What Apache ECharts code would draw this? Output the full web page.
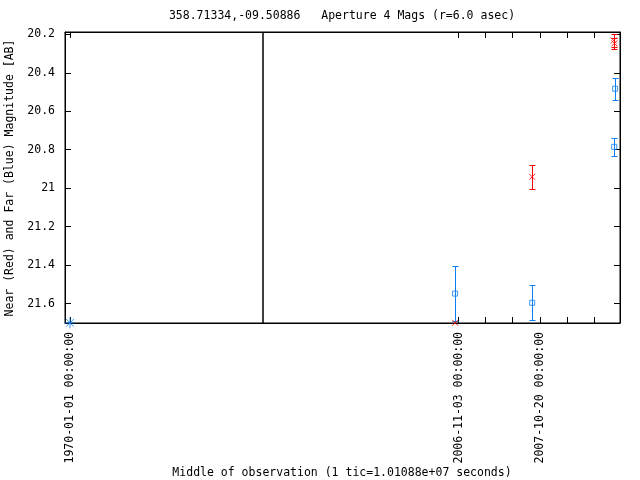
<!DOCTYPE html>
<html><head><meta charset="utf-8">
<script src="https://cdn.jsdelivr.net/npm/echarts@6/dist/echarts.min.js"></script>
<style>html,body{margin:0;padding:0;background:#fff}#c{width:640px;height:480px}</style>
</head><body><div id="c"></div>
<script>
// ---- text ----
const TITLE = '358.71334,-09.50886   Aperture 4 Mags (r=6.0 asec)';
const X_NAME = 'Middle of observation (1 tic=1.01088e+07 seconds)';
const Y_NAME = 'Near (Red) and Far (Blue) Magnitude [AB]';

// ---- ticks ----
const TIC_SECONDS = 10108800;                 // 1 tic = 117 days
const Y_TICKS = [20.2, 20.4, 20.6, 20.8, 21.0, 21.2, 21.4, 21.6];
const X_TICKS_LEFT = [0];                     // tic index
const X_TICKS_RIGHT = [115, 116, 117, 118, 119, 120];
const X_LABELS_LEFT = ['1970-01-01'];
const X_LABELS_RIGHT = ['2006-11-03', '2007-10-20'];

// ---- axis ranges (seconds since 1970 / magnitudes) ----
const X_RANGE_LEFT = [-1864000, 71760000];
const X_RANGE_RIGHT = [1089560000, 1222740000];
const Y_RANGE = [20.188, 21.701];

// ---- data: Near (red) ----
const nearDates = ['2006-10-19', '2007-09-17', '2008-09-03', '2008-09-06'];
const nearMag   = [21.700, 20.941, 20.232, 20.247];
const nearErr   = [0, 0.062, 0.034, 0.030];
// ---- data: Far (blue) ----
const farDates = ['2006-10-19', '2007-09-17', '2008-09-09', '2008-09-05'];
const farMag   = [21.548, 21.596, 20.483, 20.785];
const farErr   = [0.141, 0.090, 0.056, 0.046];
// ---- data: flagged point (blue star) ----
const flagDates = ['1970-01-01'];
const flagMag   = [21.700];

const RED = '#ff0000', BLUE = '#0a7ff5', BLACK = '#000000';
const FONT = 'DejaVu Sans Mono';
const FS = 11.5;

function toSec(d) { const p = d.split('-').map(Number); return Date.UTC(p[0], p[1]-1, p[2]) / 1000; }
function fmtDate(v) { return new Date(v * 1000).toISOString().slice(0, 19).replace('T', ' '); }
function fmtMag(v) { return String(parseFloat(Number(v).toFixed(1))); }

function errSeries(xi, yi, dates, mags, errs, color) {
  const data = [];
  dates.forEach((d, i) => { if (errs[i] > 0) data.push([toSec(d), mags[i] - errs[i], mags[i] + errs[i]]); });
  return {
    type: 'custom', xAxisIndex: xi, yAxisIndex: yi, clip: false, z: 3, silent: true,
    data: data,
    renderItem: function (params, api) {
      const x = api.value(0);
      const a = api.coord([x, api.value(1)]);
      const b = api.coord([x, api.value(2)]);
      const cx = Math.round(a[0]) + 0.5;
      const ya = Math.round(a[1]) + 0.5, yb = Math.round(b[1]) + 0.5;
      const hw = 3;
      const st = { stroke: color, lineWidth: 1 };
      return { type: 'group', children: [
        { type: 'line', shape: { x1: cx, y1: ya, x2: cx, y2: yb }, style: st },
        { type: 'line', shape: { x1: cx - hw, y1: ya, x2: cx + hw, y2: ya }, style: st },
        { type: 'line', shape: { x1: cx - hw, y1: yb, x2: cx + hw, y2: yb }, style: st }
      ]};
    }
  };
}

const X_SYM = 'path://M0,0L10,10M10,0L0,10';
const STAR_SYM = 'path://M5,0L5,10M0,5L10,5M1.5,1.5L8.5,8.5M8.5,1.5L1.5,8.5';

function markSeries(xi, yi, dates, mags, symbol, size, color, z) {
  return {
    type: 'scatter', xAxisIndex: xi, yAxisIndex: yi, clip: false, z: z || 4, silent: true,
    symbol: symbol, symbolSize: size,
    itemStyle: { color: 'transparent', borderColor: color, borderWidth: 1 },
    data: dates.map((d, i) => [toSec(d), mags[i]])
  };
}

const lineStyle = { color: BLACK, width: 1 };
function xAxis(grid, pos, range, tickIdx, labelDates) {
  return {
    gridIndex: grid, type: 'value', position: pos, min: range[0], max: range[1],
    axisLine: { show: true, onZero: false, lineStyle: lineStyle },
    axisTick: { show: true, inside: true, length: 6, lineStyle: lineStyle,
      customValues: tickIdx.map(k => k * TIC_SECONDS) },
    axisLabel: labelDates ? { show: true, rotate: 90, margin: 9, color: BLACK,
      fontFamily: FONT, fontSize: FS, customValues: labelDates.map(toSec), formatter: fmtDate }
      : { show: false },
    splitLine: { show: false }
  };
}
function yAxis(grid, pos, labels) {
  return {
    gridIndex: grid, type: 'value', position: pos, inverse: true, min: Y_RANGE[0], max: Y_RANGE[1],
    axisLine: { show: true, onZero: false, lineStyle: lineStyle },
    axisTick: { show: true, inside: true, length: 6, lineStyle: lineStyle, customValues: Y_TICKS },
    axisLabel: labels ? { show: true, margin: 10, color: BLACK, fontFamily: FONT, fontSize: FS,
      customValues: Y_TICKS, formatter: fmtMag } : { show: false },
    splitLine: { show: false }
  };
}

const chart = echarts.init(document.getElementById('c'), null, { renderer: 'canvas' });
chart.setOption({
  animation: false,
  backgroundColor: '#ffffff',
  grid: [
    { left: 65, top: 32, width: 198, height: 291, show: true, borderColor: BLACK, borderWidth: 1, backgroundColor: 'transparent' },
    { left: 263, top: 32, width: 357, height: 291, show: true, borderColor: BLACK, borderWidth: 1, backgroundColor: 'transparent' }
  ],
  xAxis: [
    xAxis(0, 'bottom', X_RANGE_LEFT, X_TICKS_LEFT, X_LABELS_LEFT),
    xAxis(0, 'top', X_RANGE_LEFT, X_TICKS_LEFT, null),
    xAxis(1, 'bottom', X_RANGE_RIGHT, X_TICKS_RIGHT, X_LABELS_RIGHT),
    xAxis(1, 'top', X_RANGE_RIGHT, X_TICKS_RIGHT, null)
  ],
  yAxis: [
    yAxis(0, 'left', true),
    yAxis(1, 'right', false)
  ],
  graphic: [
    { type: 'text', x: 342, y: 16, style: { text: TITLE, fontFamily: FONT, fontSize: FS, fill: BLACK, align: 'center', verticalAlign: 'middle' } },
    { type: 'text', x: 342, y: 473, style: { text: X_NAME, fontFamily: FONT, fontSize: FS, fill: BLACK, align: 'center', verticalAlign: 'middle' } },
    { type: 'text', x: 10, y: 178, rotation: Math.PI / 2, style: { text: Y_NAME, fontFamily: FONT, fontSize: FS, fill: BLACK, align: 'center', verticalAlign: 'middle' } }
  ],
  series: [
    errSeries(2, 1, farDates, farMag, farErr, BLUE),
    errSeries(2, 1, nearDates, nearMag, nearErr, RED),
    markSeries(2, 1, farDates, farMag, 'rect', 5, BLUE),
    markSeries(2, 1, nearDates, nearMag, X_SYM, 6, RED),
    markSeries(0, 0, flagDates, flagMag, STAR_SYM, 11, BLUE, 10)
  ]
});
</script>
</body></html>
